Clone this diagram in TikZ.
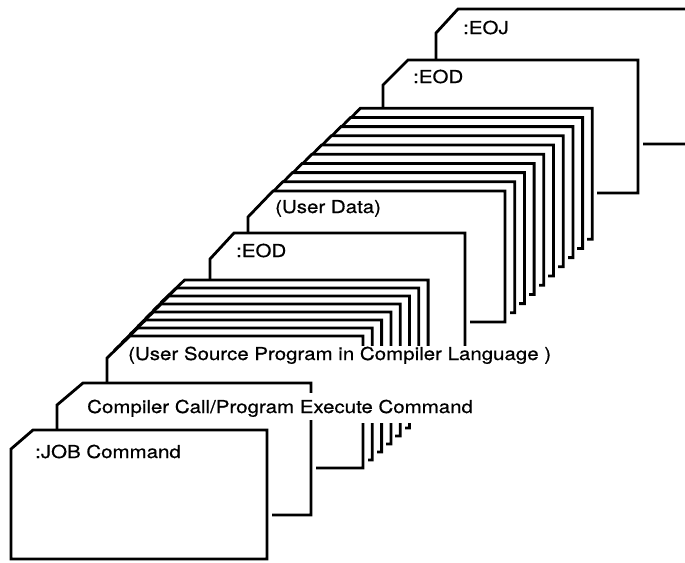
\documentclass[tikz,border=0pt]{standalone}
\usepackage{fontspec}
\newfontfamily\cardfont{TeX Gyre Heros}[FakeStretch=1.15, FakeBold=0.6]

% one card of the deck: left, top, right, bottom, corner cut x, corner cut y
\newcommand{\deckcard}[6]{%
  \fill[white] (#1,#2+#6) -- (#1+#5,#2) -- (#3,#2) -- (#3,#4) -- (#1,#4) -- cycle;
  \draw[halo] (#3,#2) -- (#3,#4);
  \draw[cardedge] (#1,#2+#6) -- (#1+#5,#2) -- (#3,#2) -- (#3,#4) -- (#1,#4) -- cycle;
}

\begin{document}
\begin{tikzpicture}[
    x=1pt, y=-1pt,
    cardedge/.style={draw=black, line width=2.8pt, line join=miter},
    halo/.style={draw=white, line width=9pt},
    cardtext/.style={font=\cardfont\fontsize{17.8}{20}\selectfont, anchor=base west, inner sep=0pt},
    gaptext/.style={cardtext, fill=white, text height=20pt, text depth=7pt, inner xsep=3pt}
]
    \useasboundingbox (0,0) rectangle (685,562);
    \clip (0,0) rectangle (685,562);

    % back of the deck
    \deckcard{436}{9}{720}{144}{22}{24}
    \node[cardtext] (eoj) at (463,34) {:EOJ};
    \deckcard{383}{60}{638}{193}{25}{25}
    \node[cardtext] (eodtop) at (413,83) {:EOD};

    % user data cards
    \foreach \i in {9,...,0} {
        \pgfmathsetmacro{\lx}{248+9.7*\i}
        \pgfmathsetmacro{\ty}{191-9.2*\i}
        \pgfmathsetmacro{\rx}{505+9.7*\i}
        \pgfmathsetmacro{\by}{322-9.2*\i}
        \deckcard{\lx}{\ty}{\rx}{\by}{25}{26}
    }
    \node[cardtext] (userdata) at (275,213) {(User Data)};

    \deckcard{210}{233}{465}{365}{24}{26}
    \node[cardtext] (eodmid) at (236,257) {:EOD};

    % source program cards
    \foreach \i in {7,...,0} {
        \pgfmathsetmacro{\lx}{107+7.8*\i}
        \pgfmathsetmacro{\ty}{336-8*\i}
        \pgfmathsetmacro{\rx}{363+9.3*\i}
        \pgfmathsetmacro{\by}{468-8*\i}
        \deckcard{\lx}{\ty}{\rx}{\by}{23}{22}
    }
    \fill[white] (311,346) rectangle (565,423);
    \node[cardtext] (source) at (128,360) {(User Source Program in Compiler Language )};

    % front of the deck
    \deckcard{57}{383}{311}{515}{26}{22}
    \node[gaptext] (call) at (84,413) {Compiler Call/Program Execute Command};
    \deckcard{11}{430}{267}{559}{22}{19}
    \node[cardtext] (job) at (35,458) {:JOB Command};
\end{tikzpicture}
\end{document}
